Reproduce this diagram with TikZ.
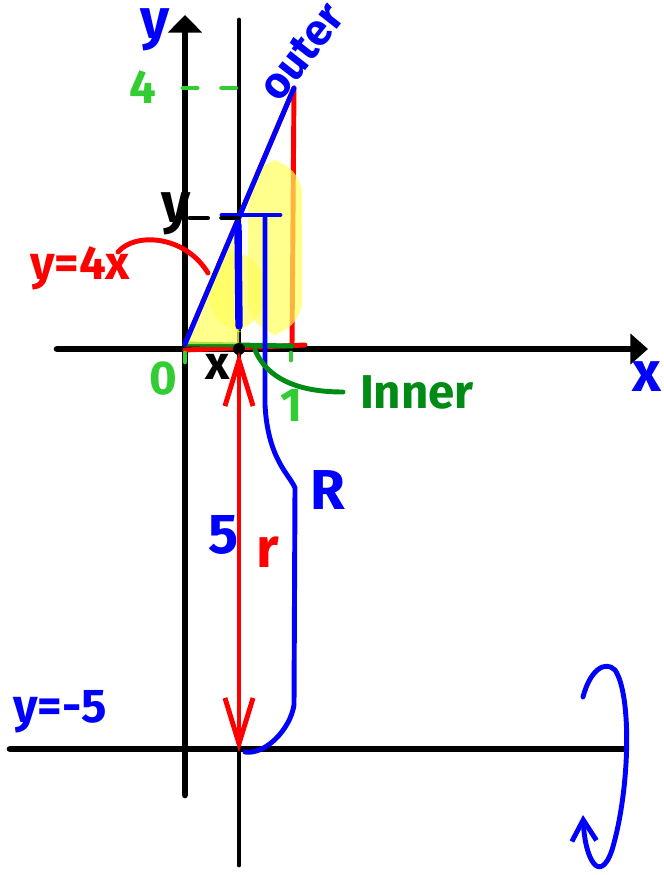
\documentclass[tikz,border=0pt]{standalone}
\usepackage{fontspec}
\setmainfont{Fira Sans}
\usetikzlibrary{arrows.meta}

\definecolor{penblue}{RGB}{0,0,255}
\definecolor{penred}{RGB}{255,0,0}
\definecolor{penlime}{RGB}{50,205,50}
\definecolor{pengreen}{RGB}{0,140,20}
\definecolor{marker}{RGB}{255,255,90}

\begin{document}
\begin{tikzpicture}[x=0.02cm, y=-0.02cm, line cap=round, line join=round]
\tikzset{
  axis/.style={line width=3.8pt, draw=black},
  guide/.style={line width=2.8pt, draw=black},
  pen/.style={line width=2.8pt},
  bluepen/.style={pen, draw=penblue},
  redpen/.style={pen, draw=penred},
  greenpen/.style={pen, draw=pengreen},
  limepen/.style={pen, draw=penlime},
  hand/.style={font=\fontsize{27}{29}\selectfont\bfseries, inner sep=0pt},
  big/.style={hand, font=\fontsize{32}{34}\selectfont\bfseries},
  barb/.style={-{Straight Barb[length=26pt,width=16pt,line width=2.8pt]}},
  smallbarb/.style={-{Straight Barb[length=12pt,width=14pt,line width=2.8pt]}},
  highlight/.style={fill=marker, opacity=0.7, draw=none}
}
\useasboundingbox (0,0) rectangle (663,875);

\coordinate (ytip) at (185,15);
\coordinate (ybot) at (185,795);
\coordinate (xleft) at (57,349);
\coordinate (xtip) at (648,349);
\coordinate (striptop) at (239,20);
\coordinate (stripbot) at (239,865);
\coordinate (axisleft) at (10,749);
\coordinate (axisright) at (625,749);
\coordinate (O) at (185,344);
\coordinate (apex) at (294,88);
\coordinate (corner) at (292,346);
\coordinate (foot) at (239,349);
\coordinate (hit) at (239,752);

\draw[axis, -{Triangle[length=10pt,width=19pt]}] (ybot) -- (ytip);
\draw[axis, -{Triangle[length=10pt,width=17pt]}] (xleft) -- (xtip);
\draw[guide] (striptop) -- (stripbot);
\draw[axis] (axisleft) -- (axisright);

\draw[redpen] (O) -- (apex) -- (corner);
\draw[redpen] (185,350) -- (305,345);
\draw[greenpen] (O) -- (corner);
\draw[limepen] (185,353) -- (185,362);
\draw[limepen] (291,353) -- (291,360);

\fill[highlight, rounded corners=20pt] (248,160) rectangle (302,335);
\fill[highlight, rounded corners=22pt] (208,250) rectangle (265,332);
\fill[highlight] (O) -- (239,220) -- (239,344) -- cycle;

\draw[bluepen] (O) -- (apex);
\draw[bluepen] (222,215) -- (280,215);
\draw[bluepen, line width=4.2pt] (238,225) -- (239,326);
\draw[bluepen] (265,218) -- (265,405) .. controls (268,460) and (290,475) .. (295,488)
  -- (294,705) .. controls (290,730) and (265,755) .. (245,752);

\draw[guide, dash pattern=on 10pt off 8pt] (190,218) -- (238,218);
\draw[limepen, dash pattern=on 8pt off 14pt] (183,88) -- (240,88);

\fill[black] (foot) circle (6);
\draw[redpen, barb] (239,700) -- (239,352);
\draw[redpen, barb] (239,400) -- (hit);

\draw[redpen] (118,252) .. controls (135,232) and (185,235) .. (208,273);
\draw[greenpen] (255,350) .. controls (270,385) and (310,392) .. (343,392);
\draw[bluepen, smallbarb] (583,697) .. controls (590,670) and (605,660) .. (615,670)
  .. controls (632,695) and (630,790) .. (612,850)
  .. controls (600,885) and (585,860) .. (583,815);

\node[big, text=penblue] (ylab) at (155,30) {y};
\node[big, text=penblue] (xlab) at (647,377) {x};
\node[hand, text=penlime] (four) at (143,87) {4};
\node[hand, text=penlime] (zero) at (163,379) {0};
\node[hand, text=penlime] (one) at (292,405) {1};
\node[big, text=black] (ylevel) at (176,214) {y};
\node[hand, text=black] (xpos) at (218,367) {x};
\node[hand, text=penred] (liney) at (80,268) {y=4x};
\node[hand, text=pengreen] (inner) at (417,392) {Inner};
\node[hand, text=penblue, rotate=52, font=\fontsize{25}{27}\selectfont\bfseries] (outer) at (302,52) {outer};
\node[big, text=penblue] (five) at (224,535) {5};
\node[big, text=penred] (small) at (268,552) {r};
\node[big, text=penblue] (large) at (328,490) {R};
\node[hand, text=penblue] (axisname) at (60,712) {y=-5};
\end{tikzpicture}
\end{document}
